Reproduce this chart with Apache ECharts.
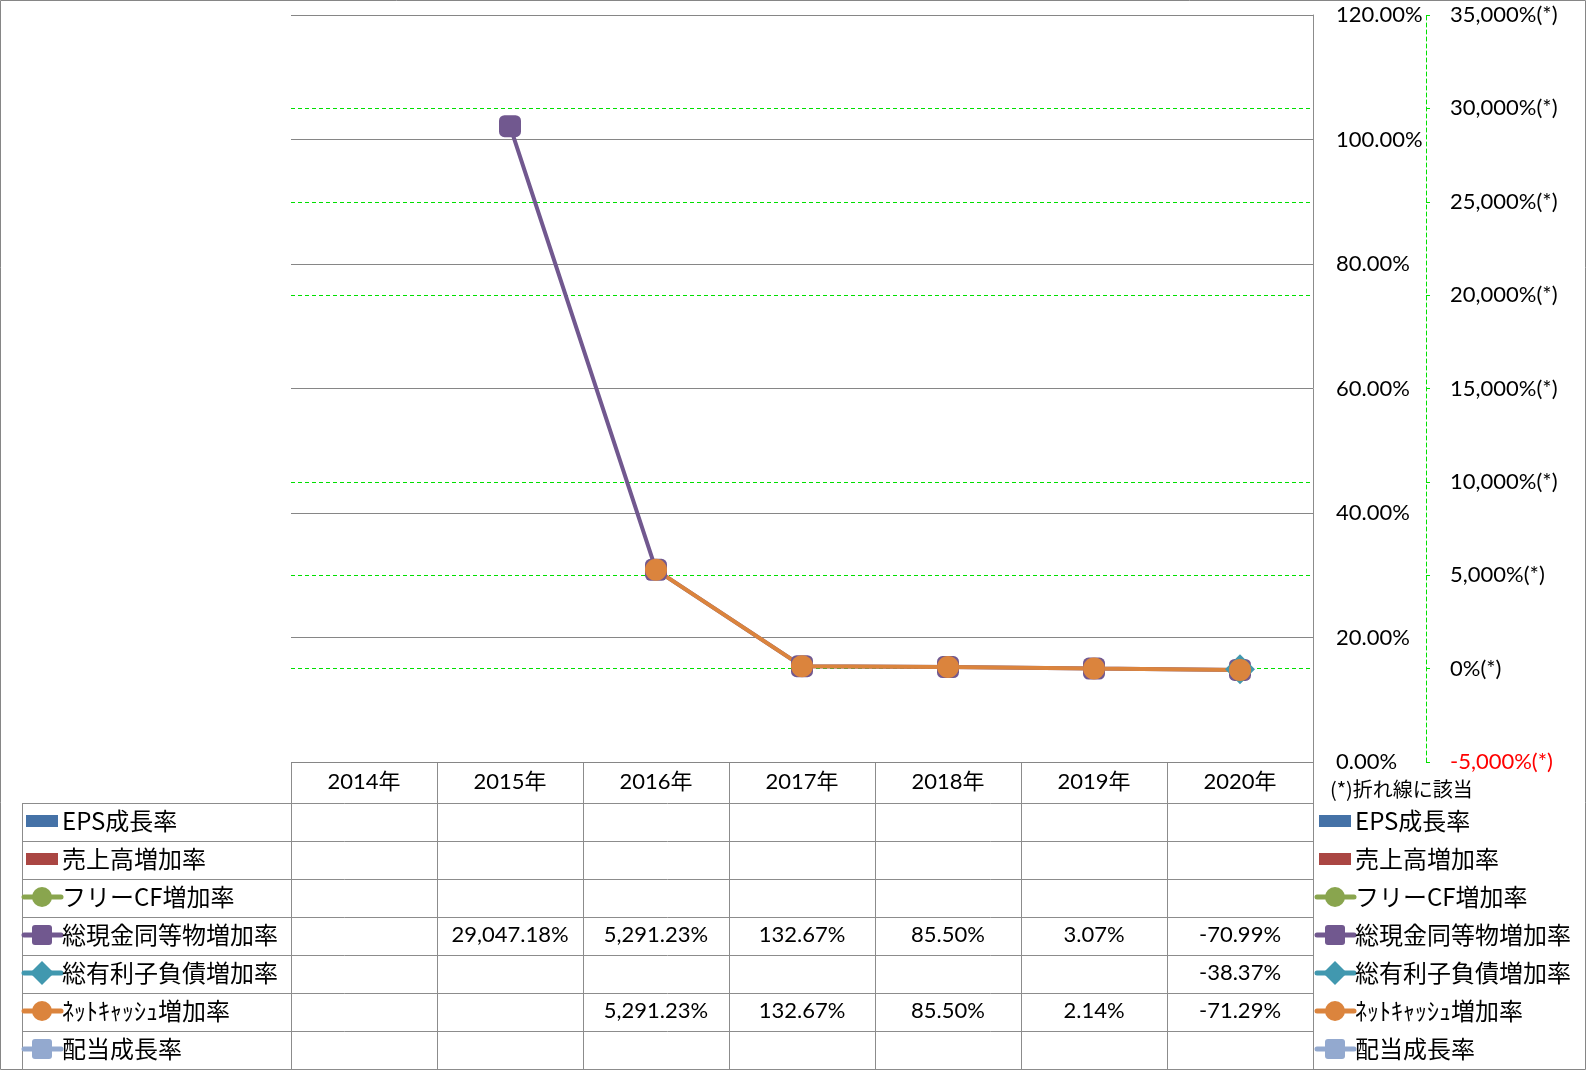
<!DOCTYPE html>
<html lang="ja">
<head>
<meta charset="UTF-8">
<title>成長率</title>
<script src="https://cdn.jsdelivr.net/npm/echarts@6/dist/echarts.min.js"></script>
<style>
  html, body { margin: 0; padding: 0; background: #fff; }
  #main { width: 1587px; height: 1071px; }
</style>
</head>
<body>
<div id="main"></div>
<script>
// データ
var years = ['2014年', '2015年', '2016年', '2017年', '2018年', '2019年', '2020年'];
var epsGrowth = [null, null, null, null, null, null, null];
var salesGrowth = [null, null, null, null, null, null, null];
var fcfGrowth = [null, null, null, null, null, null, null];
var cashGrowth = [null, 29047.18, 5291.23, 132.67, 85.50, 3.07, -70.99];
var debtGrowth = [null, null, null, null, null, null, -38.37];
var netCashGrowth = [null, null, 5291.23, 132.67, 85.50, 2.14, -71.29];
var dividendGrowth = [null, null, null, null, null, null, null];
var leftTicks = [0, 20, 40, 60, 80, 100, 120];
var rightTicks = [-5000, 0, 5000, 10000, 15000, 20000, 25000, 30000, 35000];

var rows = [
  { name: 'EPS成長率', data: epsGrowth, kind: 'bar', color: '#4572A7' },
  { name: '売上高増加率', data: salesGrowth, kind: 'bar', color: '#AA4643' },
  { name: 'フリーCF増加率', data: fcfGrowth, kind: 'line', symbol: 'circle', color: '#89A54E' },
  { name: '総現金同等物増加率', data: cashGrowth, kind: 'line', symbol: 'roundRect', color: '#71588F' },
  { name: '総有利子負債増加率', data: debtGrowth, kind: 'line', symbol: 'diamond', color: '#4198AF' },
  { name: 'ﾈｯﾄｷｬｯｼｭ増加率', data: netCashGrowth, kind: 'line', symbol: 'circle', color: '#DB843D' },
  { name: '配当成長率', data: dividendGrowth, kind: 'line', symbol: 'roundRect', color: '#93A9CF' }
];

var FONT = 'Lato, "Noto Sans CJK JP", sans-serif';
var JFONT = '"Noto Sans CJK JP", sans-serif';
var GRID_L = 291, GRID_R = 1313, GRID_T = 15, GRID_B = 762;
var colW = (GRID_R - GRID_L) / years.length;
var rowTop = 803, rowH = 38;
var lineGray = '#8c8c8c';
var green = '#00e000';

function fmtPct(v) {
  return v.toLocaleString('en-US', { minimumFractionDigits: 2, maximumFractionDigits: 2 }) + '%';
}

// 表・凡例（graphic）
var graphics = [];
graphics.push({ type: 'rect', shape: { x: 0.5, y: 0.5, width: 1585, height: 1069 },
  style: { fill: null, stroke: '#868686', lineWidth: 1 }, silent: true });

// 横線
graphics.push({ type: 'line', shape: { x1: GRID_L, y1: GRID_B + 0.5, x2: GRID_R, y2: GRID_B + 0.5 },
  style: { stroke: lineGray, lineWidth: 1 } });
for (var i = 0; i <= rows.length; i++) {
  var y = rowTop + i * rowH + 0.5;
  graphics.push({ type: 'line', shape: { x1: 22, y1: y, x2: GRID_R, y2: y },
    style: { stroke: lineGray, lineWidth: 1 } });
}
// 縦線
graphics.push({ type: 'line', shape: { x1: 22.5, y1: rowTop, x2: 22.5, y2: rowTop + rows.length * rowH },
  style: { stroke: lineGray, lineWidth: 1 } });
for (var c = 0; c <= years.length; c++) {
  var x = Math.round(GRID_L + c * colW) + 0.5;
  graphics.push({ type: 'line', shape: { x1: x, y1: GRID_B, x2: x, y2: rowTop + rows.length * rowH },
    style: { stroke: lineGray, lineWidth: 1 } });
}

function legendIcon(r, x0, cy) {
  var out = [];
  if (r.kind === 'bar') {
    out.push({ type: 'rect', shape: { x: x0 + 2, y: cy - 6, width: 32, height: 12 }, style: { fill: r.color } });
  } else {
    var mx = x0 + 18;
    out.push({ type: 'line', shape: { x1: x0, y1: cy, x2: x0 + 37, y2: cy },
      style: { stroke: r.color, lineWidth: 5, lineCap: 'round' } });
    if (r.symbol === 'circle') {
      out.push({ type: 'circle', shape: { cx: mx, cy: cy, r: 10 }, style: { fill: r.color } });
    } else if (r.symbol === 'roundRect') {
      out.push({ type: 'rect', shape: { x: mx - 10, y: cy - 10, width: 20, height: 20, r: 3 }, style: { fill: r.color } });
    } else {
      out.push({ type: 'polygon', shape: { points: [[mx, cy - 12], [mx + 12, cy], [mx, cy + 12], [mx - 12, cy]] },
        style: { fill: r.color } });
    }
  }
  return out;
}

rows.forEach(function (r, i) {
  var cy = rowTop + i * rowH + rowH / 2 - 1;
  graphics = graphics.concat(legendIcon(r, 24, cy));
  graphics.push({ type: 'text', x: 62, y: cy, style: { text: r.name, fontSize: 24, fontFamily: JFONT,
    fill: '#000', verticalAlign: 'middle', align: 'left' } });
  graphics = graphics.concat(legendIcon(r, 1317, cy));
  graphics.push({ type: 'text', x: 1355, y: cy, style: { text: r.name, fontSize: 24, fontFamily: JFONT,
    fill: '#000', verticalAlign: 'middle', align: 'left' } });
  r.data.forEach(function (v, j) {
    if (v === null) return;
    graphics.push({ type: 'text', x: GRID_L + colW * (j + 0.5), y: cy, style: { text: fmtPct(v), fontSize: 22,
      fontFamily: FONT, fill: '#000', verticalAlign: 'middle', align: 'center' } });
  });
});
graphics.push({ type: 'text', x: 1330, y: 789, style: { text: '(*)折れ線に該当', fontSize: 20, fontFamily: JFONT,
  fill: '#000', verticalAlign: 'middle', align: 'left' } });

var series = rows.map(function (r) {
  if (r.kind === 'bar') {
    return { name: r.name, type: 'bar', yAxisIndex: 0, data: r.data, itemStyle: { color: r.color } };
  }
  return {
    name: r.name, type: 'line', yAxisIndex: 1, data: r.data, z: 5,
    symbol: r.symbol, symbolSize: r.symbol === 'diamond' ? 30 : 22,
    showAllSymbol: true, connectNulls: false,
    lineStyle: { color: r.color, width: 4 },
    itemStyle: { color: r.color, opacity: 1 }
  };
});

var chart = echarts.init(document.getElementById('main'));
chart.setOption({
  animation: false,
  backgroundColor: '#fff',
  grid: { left: GRID_L, right: 1587 - GRID_R, top: GRID_T, bottom: 1071 - GRID_B, containLabel: false },
  xAxis: {
    type: 'category', data: years, boundaryGap: true,
    axisLine: { show: false }, axisTick: { show: false },
    axisLabel: { margin: 20, verticalAlign: 'middle', fontSize: 22, fontFamily: FONT, color: '#000' }
  },
  yAxis: [
    {
      type: 'value', position: 'right', z: 2, min: leftTicks[0], max: leftTicks[leftTicks.length - 1], interval: 20,
      axisLine: { show: true, lineStyle: { color: lineGray, width: 1 } },
      axisTick: { show: false },
      splitLine: { show: true, lineStyle: { color: '#868686', width: 1 } },
      axisLabel: { margin: 23, fontSize: 22, fontFamily: FONT, color: '#000',
        formatter: function (v) { return v.toFixed(2) + '%'; } }
    },
    {
      type: 'value', position: 'right', offset: 113, z: 1,
      min: rightTicks[0], max: rightTicks[rightTicks.length - 1], interval: 5000,
      axisLine: { show: true, lineStyle: { color: green, width: 1, type: [4, 3] } },
      axisTick: { show: true, length: 7, lineStyle: { color: green, width: 1, type: [4, 3] } },
      splitLine: { show: true, lineStyle: { color: green, width: 1, type: [4, 3] } },
      axisLabel: {
        margin: 24, fontSize: 22, fontFamily: FONT, color: '#000',
        formatter: function (v) {
          var s = v.toLocaleString('en-US') + '%(*)';
          return v < 0 ? '{neg|' + s + '}' : s;
        },
        rich: { neg: { color: '#ff0000', fontSize: 22, fontFamily: FONT } }
      }
    }
  ],
  series: series,
  graphic: graphics
});
</script>
</body>
</html>
